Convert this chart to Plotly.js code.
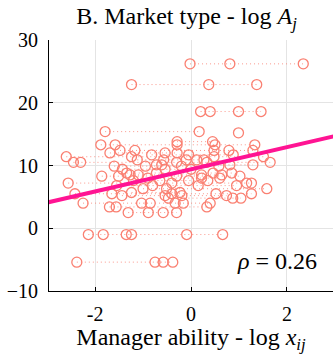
<!DOCTYPE html>
<html>
<head>
<meta charset="utf-8">
<script src="https://cdn.plot.ly/plotly-3.0.1.min.js"></script>
<style>
html,body{margin:0;padding:0;background:#fff;}
#chart{width:333px;height:354px;}
</style>
</head>
<body>
<div id="chart"></div>
<script>
// Market type (log A_j) for each market
const marketLogA = [26.2, 22.9, 18.6, 15.4, 15.2, 13.3, 13.8, 12.4, 12.0, 11.7, 11.4, 10.5, 10.9, 10.1, 9.9, 9.4, 8.8, 8.3, 8.5, 8.0, 7.6, 7.2, 6.8, 6.3, 5.5, 5.2, 5.7, 4.8, 4.0, 3.4, 2.5, -1.0, -5.4];
// Manager ability (log x_ij) for managers in each market
const managerLogX = [
  [-0.02, 0.81, 2.34],
  [-1.24, 0.37, 1.37],
  [0.20, 0.40, 0.99, 1.46],
  [-1.79, 0.17],
  [0.99],
  [-1.88, -1.58, -0.29, 0.50, 1.33],
  [-0.29, 0.45],
  [-1.48, -1.17, 0.48, 0.79, 1.29],
  [-1.69, -0.54, -0.29],
  [-0.82, -0.05, 0.88],
  [-2.60, -1.24, 0.48, 1.51],
  [-2.45, -2.30, -0.30, 0.33, 1.65],
  [-1.12, -0.57, -0.10, 0.12, 0.27],
  [-0.72, -0.61, 0.81, 1.29],
  [-1.60, -0.95, -0.20, 0.58],
  [-1.43, -0.54, 0.0],
  [-1.34, -0.72, 0.46, 0.85],
  [-1.86, -1.51, -0.30, 1.02],
  [-1.27, -1.10, 0.22, 0.64],
  [-0.90, 0.22, 0.60],
  [-1.20, -0.65, -0.05, 0.35],
  [-2.56, -0.40, 1.16, 1.26],
  [-1.55, -0.80, 0.15, 0.95],
  [-1.00, -0.51, 1.58],
  [-2.42, -1.65, -0.40, 0.52, 1.26],
  [-1.44, -0.54, -0.19, 0.74],
  [-1.24, -0.23],
  [-0.47, 0.87, 1.04],
  [-2.25, -1.03, -0.85, -0.33, -0.16, 0.40],
  [-1.70, -1.56, 0.33],
  [-1.31, -0.89, -0.58, -0.30],
  [-2.14, -1.83, -1.35, -1.24, -0.09, 0.66],
  [-2.38, -0.75, -0.58, -0.38]
];
// Fitted regression line
const fitX = [-3.0, 3.0];
const fitY = [4.1, 14.7];
const rhoText = '<i>ρ</i> = 0.26';

const sx = [], sy = [];
managerLogX.forEach((xs, i) => {
  const sorted = xs.slice().sort((a, b) => a - b);
  sorted.forEach(v => { sx.push(v); sy.push(marketLogA[i]); });
  sx.push(null); sy.push(null);
});

const salmon = 'rgb(250,128,114)';
const serif = '"Liberation Serif", "DejaVu Serif", serif';

const traces = [
  {
    x: sx, y: sy, type: 'scatter', mode: 'lines+markers', connectgaps: false,
    line: {color: 'rgba(250,128,114,0.8)', width: 1, dash: '1px,3px'},
    marker: {symbol: 'circle-open', size: 10, color: salmon, line: {width: 1.3, color: salmon}},
    hoverinfo: 'skip', showlegend: false
  },
  {
    x: fitX, y: fitY, type: 'scatter', mode: 'lines',
    line: {color: 'rgb(255,20,147)', width: 4}, showlegend: false
  }
];

const layout = {
  width: 333, height: 354,
  margin: {l: 49, r: 0, t: 40, b: 63},
  paper_bgcolor: '#fff', plot_bgcolor: '#fff',
  font: {family: serif, color: '#000', size: 20},
  title: {text: 'B. Market type - log <i>A<sub>j</sub></i>', x: 0.56, xanchor: 'center', y: 0.955, yanchor: 'middle', font: {size: 24, family: serif}},
  xaxis: {
    range: [-2.96, 2.96], tickvals: [-2, 0, 2], ticktext: ['-2', '0', '2'],
    showgrid: true, gridcolor: '#e4e4e4', gridwidth: 1, zeroline: false,
    showline: true, linecolor: '#000', linewidth: 1,
    ticks: 'inside', ticklen: 4, tickcolor: '#000', ticklabelstandoff: 5,
    tickfont: {size: 20, family: serif},
    title: {text: 'Manager ability - log <i>x<sub>ij</sub></i>', font: {size: 24, family: serif}, standoff: 6}
  },
  yaxis: {
    range: [-10, 30], tickvals: [-10, 0, 10, 20, 30],
    showgrid: true, gridcolor: '#e4e4e4', gridwidth: 1, zeroline: false,
    showline: true, linecolor: '#000', linewidth: 1,
    ticks: 'inside', ticklen: 4, tickcolor: '#000', ticklabelstandoff: 6,
    tickfont: {size: 20, family: serif}
  },
  annotations: [{
    text: rhoText, xref: 'paper', yref: 'paper', x: 0.95, y: 0.12,
    xanchor: 'right', yanchor: 'middle', showarrow: false,
    font: {size: 24, family: serif}
  }]
};

Plotly.newPlot('chart', traces, layout, {staticPlot: true, displayModeBar: false});
</script>
</body>
</html>
